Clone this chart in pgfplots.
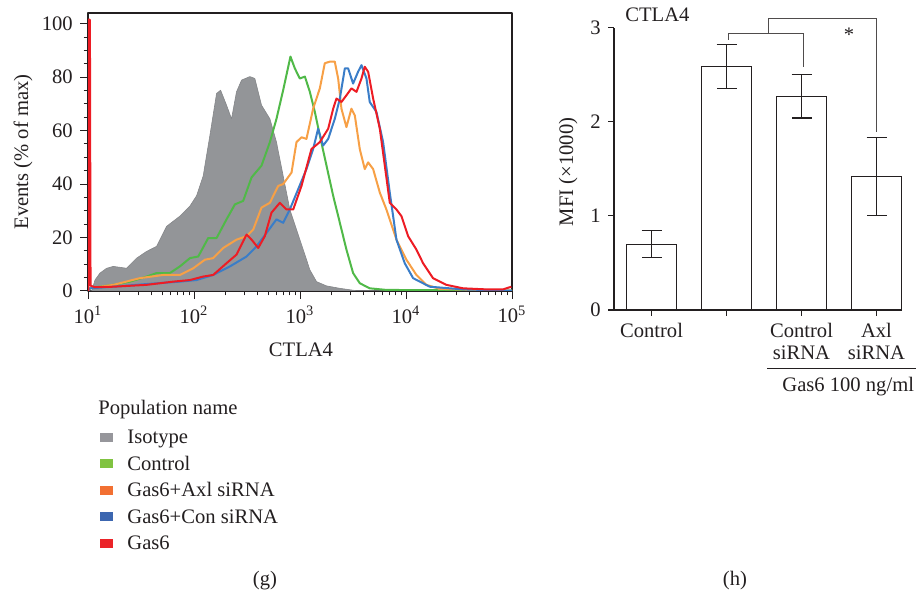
\documentclass[border=0pt]{standalone}
\usepackage{fontspec}
\setmainfont{Liberation Serif}
\usepackage{pgfplots}
\pgfplotsset{compat=1.18}

\definecolor{txt}{HTML}{231F20}
\definecolor{isogray}{RGB}{147,149,152}
\definecolor{cgreen}{RGB}{80,185,72}
\definecolor{corange}{RGB}{247,160,70}
\definecolor{cblue}{RGB}{58,125,200}
\definecolor{cred}{RGB}{237,28,36}
\definecolor{lgray}{RGB}{150,150,155}
\definecolor{lgreen}{RGB}{128,195,65}
\definecolor{lorange}{RGB}{242,112,50}
\definecolor{lblue}{RGB}{60,102,176}
\definecolor{lred}{RGB}{235,35,40}

% x = log10(CTLA4 intensity), y = events (% of max)
\pgfplotstableread{
lx y
1.000 0
1.035 0
1.066 4.1
1.113 6.7
1.176 8.5
1.239 9.2
1.364 8.5
1.459 12.3
1.553 14.8
1.647 16.7
1.742 24.2
1.867 28.0
1.962 31.8
2.024 35.6
2.087 43.1
2.150 58.2
2.213 73.9
2.251 75.1
2.307 69.5
2.354 64.4
2.401 74.5
2.449 78.9
2.527 80.2
2.574 79.5
2.637 69.5
2.716 64.4
2.778 55.7
2.841 43.1
2.904 30.5
2.967 23.0
3.030 15.5
3.093 7.9
3.156 3.5
3.250 1.9
3.375 1.0
3.533 0.1
5.000 0
}\isotype

\pgfplotstableread{
lx y
1.000 0
1.019 1.0
1.113 1.6
1.239 2.3
1.396 3.5
1.553 5.4
1.647 6.7
1.773 6.7
1.867 9.2
1.962 12.3
2.040 12.9
2.134 19.8
2.213 19.8
2.307 26.8
2.386 32.4
2.464 33.7
2.543 42.5
2.637 46.9
2.716 55.7
2.778 64.4
2.841 75.1
2.910 87.7
2.951 83.3
2.998 79.5
3.046 80.2
3.093 74.5
3.140 67.0
3.187 58.2
3.250 46.9
3.313 35.6
3.376 25.5
3.438 15.5
3.501 6.7
3.564 2.9
3.658 1.0
3.815 0.4
5.000 0.1
}\control

\pgfplotstableread{
lx y
1.000 0
1.019 1.0
1.239 2.3
1.490 4.8
1.710 6.0
1.867 6.0
1.993 8.5
2.103 11.7
2.181 12.3
2.276 16.1
2.401 19.2
2.496 20.5
2.559 23.0
2.637 31.2
2.716 33.0
2.794 39.3
2.841 40.0
2.920 44.3
2.967 55.7
3.014 57.5
3.061 56.9
3.124 68.2
3.187 75.8
3.234 85.2
3.281 85.8
3.328 85.8
3.360 79.5
3.391 68.2
3.438 61.3
3.485 68.2
3.517 65.7
3.564 53.1
3.611 45.6
3.643 48.1
3.690 45.6
3.753 36.8
3.815 30.5
3.910 19.2
4.004 11.7
4.098 6.0
4.192 2.3
4.318 0.8
5.000 0.1
}\axlsi

\pgfplotstableread{
lx y
1.000 0
1.019 1.0
1.239 1.6
1.553 2.6
1.867 3.5
2.024 4.1
2.181 6.0
2.339 9.2
2.496 12.9
2.590 16.7
2.684 21.7
2.778 26.8
2.841 25.5
2.904 30.5
2.983 38.1
3.061 45.6
3.124 53.1
3.171 60.7
3.218 54.4
3.266 56.9
3.328 64.4
3.376 72.0
3.423 83.3
3.454 83.3
3.501 77.6
3.548 82.0
3.580 84.5
3.627 79.5
3.658 70.7
3.721 67.0
3.784 55.7
3.847 36.8
3.910 19.2
3.988 10.4
4.067 4.8
4.224 1.6
4.538 0.6
5.000 0.1
}\consi

\pgfplotstableread{
lx y
1.003 0
1.003 101.5
1.018 101.5
1.024 2.0
1.066 1.4
1.239 1.6
1.553 2.3
1.804 3.5
1.962 4.1
2.087 5.4
2.181 6.0
2.307 10.4
2.401 13.6
2.496 21.1
2.543 19.2
2.606 16.1
2.668 20.5
2.731 29.3
2.810 33.0
2.873 30.5
2.936 30.5
3.014 39.3
3.108 53.1
3.187 55.7
3.266 60.7
3.313 68.2
3.344 72.0
3.391 70.7
3.438 73.2
3.485 75.8
3.533 74.5
3.580 79.5
3.611 83.9
3.643 82.0
3.690 72.0
3.753 60.7
3.800 46.9
3.847 33.0
3.910 30.5
3.957 28.0
4.020 20.5
4.098 15.5
4.161 10.4
4.255 4.8
4.381 2.3
4.538 1.0
4.758 0.6
4.915 0.6
4.994 1.6
}\gassix

% MFI (x1000)
\pgfplotstableread{
x y e
0 0.70 0.145
1 2.59 0.235
2 2.27 0.23
3 1.42 0.415
}\mfi

\begin{document}
\fontsize{10.3pt}{12.4pt}\selectfont
\color{txt}
\begin{tikzpicture}[x=1pt,y=1pt]
\useasboundingbox (0,0) rectangle (458,296);

\begin{axis}[
    at={(44pt,150.5pt)}, anchor=south west,
    scale only axis, width=212pt, height=139pt,
    xmin=1, xmax=5, ymin=0, ymax=104,
    xtick={1,2,3,4,5},
    xticklabels={10\textsuperscript{1},10\textsuperscript{2},10\textsuperscript{3},10\textsuperscript{4},10\textsuperscript{5}},
    minor xtick={1.301,1.477,1.602,1.699,1.778,1.845,1.903,1.954,
                 2.301,2.477,2.602,2.699,2.778,2.845,2.903,2.954,
                 3.301,3.477,3.602,3.699,3.778,3.845,3.903,3.954,
                 4.301,4.477,4.602,4.699,4.778,4.845,4.903,4.954},
    ytick={0,20,40,60,80,100},
    minor y tick num=3,
    tick align=outside, xtick pos=left, ytick pos=left,
    major tick length=4pt, minor tick length=2.2pt,
    tick style={txt, line width=0.5pt},
    axis line style={txt, line width=0.6pt},
    yticklabel style={/pgf/number format/assume math mode=true},
    line join=round,
]
\addplot[fill=isogray, draw=isogray!90!black, line width=0.3pt] table[x=lx, y=y] {\isotype} \closedcycle;
\addplot[cgreen, line width=1pt] table[x=lx, y=y] {\control};
\addplot[corange, line width=1pt] table[x=lx, y=y] {\axlsi};
\addplot[cblue, line width=1pt] table[x=lx, y=y] {\consi};
\addplot[cred, line width=1pt] table[x=lx, y=y] {\gassix};
\end{axis}

\begin{axis}[
    at={(307pt,141pt)}, anchor=south west,
    scale only axis, width=144pt, height=141.15pt,
    xmin=-0.5, xmax=3.34, ymin=0, ymax=3,
    axis lines*=left, clip=false,
    xtick={0,1,2,3},
    xticklabels={Control,,{Control\\siRNA},{Axl\\siRNA}},
    xticklabel style={align=center, font=\fontsize{10.3pt}{11pt}\selectfont},
    ytick={0,1,2,3},
    tick align=outside, major tick length=3pt,
    tick style={txt, line width=0.6pt},
    axis line style={txt, line width=0.6pt},
    yticklabel style={/pgf/number format/assume math mode=true},
]
\addplot[ybar, bar width=25pt, fill=white, draw=txt, line width=0.6pt,
    error bars/.cd, y dir=both, y explicit,
    error bar style={line width=0.6pt, txt},
    error mark options={rotate=90, line width=0.6pt, mark size=5pt, txt}]
    table[x=x, y=y, y error=e] {\mfi};
\draw[txt!80, line width=0.5pt] (axis cs:1.02,2.873) -- (axis cs:1.02,2.937)
    -- (axis cs:2.02,2.937) -- (axis cs:2.02,2.583);
\draw[txt!80, line width=0.5pt] (axis cs:1.564,2.937) -- (axis cs:1.564,3.096)
    -- (axis cs:3.0,3.096) -- (axis cs:3.0,1.893);
\node[inner sep=0] at (axis cs:2.635,2.93) {*};
\end{axis}

% labels
\node[rotate=90, anchor=base, inner sep=0] at (14,220) {Events (\% of max)};
\node[anchor=base, inner sep=0] at (150.5,117.5) {CTLA4};
\node[rotate=90, anchor=base, inner sep=0] at (286.5,210) {MFI (×1000)};
\node[anchor=base west, inner sep=0] at (312.5,285) {CTLA4};
\draw[txt, line width=0.5pt] (383.5,111.5) -- (458,111.5);
\node[anchor=base west, inner sep=0] at (391,100.2) {Gas6 100 ng/ml};

% legend
\node[anchor=base west, inner sep=0] at (49,88.5) {Population name};
\foreach \c/\lab [count=\i from 0] in {lgray/Isotype, lgreen/Control, lorange/Gas6+Axl siRNA, lblue/Gas6+Con siRNA, lred/Gas6} {
  \pgfmathsetmacro\yb{296-(444+26.4*\i)/2}
  \fill[\c] (50,\yb+1) rectangle (56.5,\yb+5.5);
  \node[anchor=base west, inner sep=0] at (63.5,\yb) {\lab};
}

\node[anchor=base, inner sep=0] at (132.5,3) {(g)};
\node[anchor=base, inner sep=0] at (367.5,3) {(h)};
\end{tikzpicture}
\end{document}
